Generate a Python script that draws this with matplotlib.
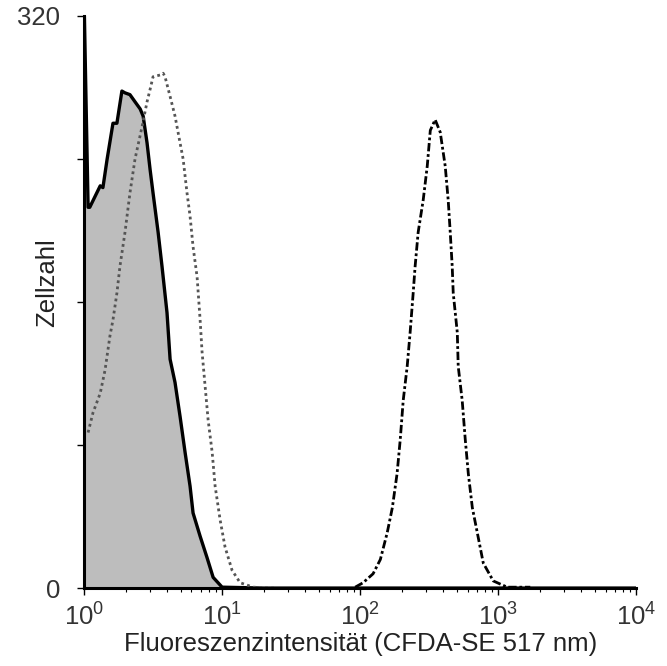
import numpy as np
import matplotlib
matplotlib.use("Agg")
import matplotlib.pyplot as plt
from matplotlib.ticker import LogLocator, NullFormatter, FixedLocator

plt.rcParams["font.family"] = ["Liberation Sans", "DejaVu Sans"]

# unstained control (solid, filled)
ctrl_x = np.array([1.0, 1.07, 1.10, 1.31, 1.37, 1.47, 1.62, 1.73, 1.88, 1.98, 2.15, 2.34,
                   2.55, 2.68, 2.86, 3.01, 3.16, 3.44, 3.67, 3.99, 4.20, 4.56, 4.96, 5.39,
                   5.86, 6.16, 6.93, 7.78, 8.61, 10.0, 20.0, 100.0, 1000.0, 10000.0])
ctrl_y = np.array([330, 213, 213, 225, 224, 240, 260, 260, 278, 277, 276, 272,
                   268, 264, 249, 234, 221, 199, 180, 154, 128, 115, 96, 76,
                   57, 42, 29, 17, 6, 0.5, 0, 0, 0, 0])

# dotted curve
dot_x = np.array([1.07, 1.16, 1.31, 1.42, 1.54, 1.62, 1.73, 1.82, 1.98, 2.15, 2.34, 2.63,
                  2.86, 3.01, 3.16, 3.56, 3.74, 3.86, 4.20, 4.56, 4.96, 5.22, 5.57, 5.86,
                  6.16, 6.59, 6.93, 7.16, 7.53, 7.92, 8.47, 8.90, 9.68, 10.5, 11.8, 13.5,
                  16.8, 25.0])
dot_y = np.array([87, 98, 109, 122, 141, 150, 165, 180, 199, 221, 240, 258,
                  272, 279, 286, 287, 288, 286, 275, 264, 249, 240, 221, 208,
                  191, 174, 150, 132, 113, 94, 76, 57, 38, 23, 10, 3,
                  0.5, 0])

# CFDA-SE stained (dash-dot)
cfda_x = np.array([92, 105, 124, 140, 157, 171, 185, 195, 205, 219, 230, 242, 250, 263,
                   286, 306, 322, 349, 380, 413, 434, 449, 464, 472, 505, 513, 548, 577,
                   607, 649, 705, 779, 920, 1162, 1706])
cfda_y = np.array([0.5, 3, 8, 16, 31, 45, 64, 83, 105, 124, 143, 165, 180, 199,
                   217, 236, 256, 262, 255, 236, 217, 199, 180, 165, 143, 124, 105, 83,
                   64, 45, 31, 14, 4, 0.5, 0.5])

fig = plt.figure(figsize=(6.67, 6.66), dpi=100)
ax = fig.add_axes([0.126, 0.117, 0.828, 0.859])

ax.fill_between(ctrl_x, ctrl_y, color="#bdbdbd", lw=0)
ax.plot(ctrl_x, ctrl_y, color="black", lw=2.4)
ax.plot(dot_x, dot_y, color="#555555", lw=2.0, linestyle=(0, (1, 1.2)))
ax.plot(cfda_x, cfda_y, color="black", lw=2.0, linestyle=(0, (3, 1, 1, 1)))

ax.set_xscale("log")
ax.set_xlim(1, 1e4)
ax.set_ylim(0, 320)

ax.spines["top"].set_visible(False)
ax.spines["right"].set_visible(False)
ax.spines["left"].set_linewidth(2.2)
ax.spines["bottom"].set_linewidth(2.2)

ax.xaxis.set_major_locator(LogLocator(base=10, numticks=10))
ax.xaxis.set_minor_locator(LogLocator(base=10, subs=np.arange(2, 10), numticks=10))
ax.xaxis.set_minor_formatter(NullFormatter())
ax.yaxis.set_major_locator(FixedLocator([0, 80, 160, 240, 320]))
ax.set_yticklabels(["0", "", "", "", "320"])

ax.tick_params(axis="both", which="major", length=5, width=1, labelsize=18.5,
               colors="black", labelcolor="#333333")
ax.tick_params(axis="x", which="minor", length=3, width=0.8)
ax.tick_params(axis="x", which="major", pad=6)
ax.tick_params(axis="y", pad=12)

ax.set_xlabel("Fluoreszenzintensität (CFDA-SE 517 nm)", fontsize=18.5, color="#222222", labelpad=1)
ax.set_ylabel("Zellzahl", fontsize=18.5, color="#222222")
ax.yaxis.set_label_coords(-0.045, 0.534)

fig.savefig("out.png", dpi=100)
